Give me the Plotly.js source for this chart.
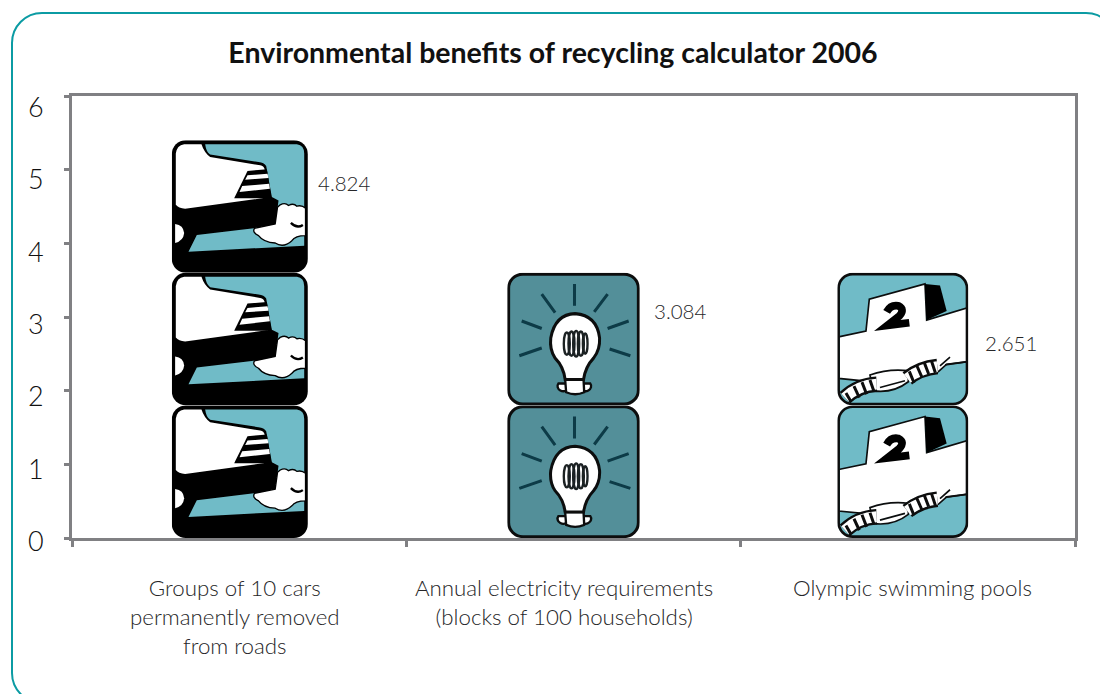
<!DOCTYPE html>
<html><head><meta charset="utf-8">
<script src="https://cdn.plot.ly/plotly-3.0.1.min.js"></script>
<style>
html,body{margin:0;padding:0;background:#fff;width:1100px;height:694px;overflow:hidden}
#frame{position:absolute;left:11px;top:12px;width:1106px;height:692px;border:2px solid #0b9ba3;border-radius:31px;box-sizing:border-box}
#chart{position:absolute;left:0;top:0;width:1100px;height:694px}
</style></head><body>
<div id="frame"></div><div id="chart"></div>
<script>
const categories = ["Groups of 10 cars<br>permanently removed<br>from roads",
  "Annual electricity requirements<br>(blocks of 100 households)",
  "Olympic swimming pools"];
const values = [4.824, 3.084, 2.651];
const valueLabels = ["4.824", "3.084", "2.651"];
const yTicks = [0, 1, 2, 3, 4, 5, 6];
const title = "Environmental benefits of recycling calculator 2006";
const unitsPerIcon = 1.8;

const TEAL = "#70bbc7", BULBBG = "#528f99";
const blur = `<filter id="b" x="-5%" y="-5%" width="110%" height="110%"><feGaussianBlur stdDeviation="1.9"/></filter>`;
const car = `<svg xmlns="http://www.w3.org/2000/svg" viewBox="35 35 408 396" preserveAspectRatio="none"><defs>${blur}</defs><g filter="url(#b)">
<rect x="35" y="35" width="408" height="396" rx="42" fill="#000"/>
<path d="M135,47 L410,47 Q432,50 432,75 L432,350 L85,368 L110,318 L345,290 L355,215 L335,205 L318,112 Q312,102 295,100 L150,78 Q138,70 135,47Z" fill="${TEAL}"/>
<path d="M47,228 L47,75 Q50,50 72,47 L124,47 Q132,72 150,85 L300,110 Q312,112 314,125 L330,205 L75,240 Q55,238 47,228Z" fill="#fff"/>
<path d="M262,127 L320,122 L334,208 L222,208Z" fill="#000"/>
<path d="M262,140 L322,135 L325,148 L255,153Z M246,172 L327,165 L329,180 L238,190Z" fill="#fff"/>
<path d="M360,228 Q375,220 385,230 Q400,222 410,232 Q425,228 436,238 L436,320 Q405,320 395,335 Q370,358 345,342 Q310,340 295,320 Q275,310 283,298 L345,285 L352,235Z" fill="#fff" stroke="#000" stroke-width="4"/>
<path d="M392,282 Q410,300 428,288" fill="none" stroke="#000" stroke-width="7"/>
<path d="M45,285 Q70,288 72,312 Q70,335 45,342Z" fill="#fff"/>
</g></svg>`;
const bulb = `<svg xmlns="http://www.w3.org/2000/svg" viewBox="22 22 396 393" preserveAspectRatio="none"><defs>${blur}</defs><g filter="url(#b)">
<rect x="26" y="26" width="388" height="385" rx="42" fill="${BULBBG}" stroke="#0a0f10" stroke-width="9"/>
<path d="M223,55 L223,120 M125,85 L165,140 M322,85 L282,138 M65,165 L125,187 M385,165 L322,187 M58,268 L125,245 M390,268 L328,248" stroke="#0c3a46" stroke-width="9" fill="none"/>
<path d="M175,350 a13,11 0 1 0 30,16 L240,366 a13,11 0 1 0 30,-16Z" fill="#fff" stroke="#0a0f10" stroke-width="7"/>
<path d="M195,338 L250,338 L252,376 Q225,388 198,376Z" fill="#fff" stroke="#0a0f10" stroke-width="7"/>
<path d="M195,338 Q190,300 165,275 Q148,250 152,215 Q165,145 225,143 Q290,148 298,215 Q300,250 280,275 Q256,300 250,338Z" fill="#fff" stroke="#0a0f10" stroke-width="9"/>
<g fill="none" stroke="#1a2024" stroke-width="7"><ellipse cx="200" cy="232" rx="9" ry="33"/><ellipse cx="214" cy="232" rx="9" ry="36"/><ellipse cx="228" cy="232" rx="9" ry="38"/><ellipse cx="242" cy="232" rx="9" ry="36"/><ellipse cx="255" cy="232" rx="7" ry="30"/></g>
</g></svg>`;
const pool = `<svg xmlns="http://www.w3.org/2000/svg" viewBox="22 22 393 393" preserveAspectRatio="none"><defs>${blur}<clipPath id="c"><rect x="26" y="26" width="385" height="385" rx="42"/></clipPath></defs><g filter="url(#b)">
<rect x="26" y="26" width="385" height="385" rx="42" fill="${TEAL}"/>
<g clip-path="url(#c)">
<path d="M26,212 L108,195 L118,100 L285,55 L290,162 L415,125 L415,285 L350,293 L325,315 L215,325 L130,345 L26,335Z" fill="#fff" stroke="#0a0f10" stroke-width="5"/>
<path d="M285,55 L330,60 L350,135 L290,162Z" fill="#000"/>
<path d="M170,138 Q182,116 205,120 Q226,130 208,150 L172,178 L238,170" fill="none" stroke="#000" stroke-width="23"/>
<path d="M120,325 Q175,305 235,312 L235,345 Q190,380 130,372Z" fill="#fff" stroke="#0a0f10" stroke-width="5"/>
<path d="M150,362 L225,342" stroke="#0a0f10" stroke-width="5"/>
<path d="M45,392 Q85,355 140,352" fill="none" stroke="#0a0f10" stroke-width="46"/>
<path d="M45,392 Q85,355 140,352" fill="none" stroke="#fff" stroke-width="32"/>
<path d="M48,378 L62,402 M72,358 L88,392 M96,346 L110,382 M120,340 L132,374" stroke="#111" stroke-width="9" fill="none"/>
<path d="M232,335 Q270,305 322,300" fill="none" stroke="#0a0f10" stroke-width="46"/>
<path d="M232,335 Q270,305 322,300" fill="none" stroke="#fff" stroke-width="32"/>
<path d="M238,314 L252,348 M260,296 L276,332 M282,286 L296,322 M304,282 L316,318" stroke="#111" stroke-width="9" fill="none"/>
<path d="M330,298 L360,272 M345,295 L415,285" stroke="#0a0f10" stroke-width="5" fill="none"/>
</g>
<rect x="26" y="26" width="385" height="385" rx="42" fill="none" stroke="#0a0f10" stroke-width="8"/>
</g></svg>`;
const iconArt = [car, bulb, pool];
const iconNudge = [0.002, 0, -0.015];
const iconWidths = [0.407, 0.396, 0.392];
const labelNudge = [77, 78, 75];
const categoryNudge = [-4.5, -10, 5];

const toUri = s => "data:image/svg+xml;charset=utf-8," + encodeURIComponent(s);
const images = [];
values.forEach((v, i) => {
  const n = Math.ceil(v / unitsPerIcon);
  for (let k = 0; k < n; k++) images.push({
    source: toUri(iconArt[i]), xref: "x", yref: "y",
    x: i + iconNudge[i], y: k * unitsPerIcon, sizex: iconWidths[i], sizey: unitsPerIcon,
    xanchor: "center", yanchor: "bottom", sizing: "stretch", layer: "above"
  });
});

const F = "Lato, 'Open Sans', sans-serif", INK = "#262628", AXIS = "#808083";
const annotations = [];
values.forEach((v, i) => annotations.push({
  x: i, y: v, xref: "x", yref: "y", text: valueLabels[i], showarrow: false,
  xanchor: "left", xshift: labelNudge[i], font: {family: F, size: 20.5, color: INK, weight: 300}
}));
categories.forEach((c, i) => annotations.push({
  x: i, y: 0, xref: "x", yref: "paper", text: c, showarrow: false,
  xanchor: "center", yanchor: "top", xshift: categoryNudge[i], yshift: -34, align: "center",
  font: {family: F, size: 22.3, color: INK, weight: 300}
}));
yTicks.forEach(t => annotations.push({
  x: 0, y: t, xref: "paper", yref: "y", text: String(t), showarrow: false,
  xanchor: "right", xshift: -26, yshift: -(2.5 + 1.33 * t),
  font: {family: F, size: 27, color: "#111", weight: 300}
}));

Plotly.newPlot("chart", [{
  type: "bar", x: categories, y: values, width: 0.4,
  marker: {color: "rgba(0,0,0,0)"}, hoverinfo: "y"
}], {
  width: 1100, height: 694,
  margin: {l: 72, r: 25, t: 95.5, b: 155.5},
  paper_bgcolor: "rgba(0,0,0,0)", plot_bgcolor: "rgba(0,0,0,0)",
  showlegend: false,
  title: {text: "<b>" + title + "</b>", x: 553 / 1100, xanchor: "center", y: 1 - 53 / 694, yanchor: "middle",
    font: {family: F, size: 28.5, color: "#111"}},
  xaxis: {type: "category", tickson: "boundaries", ticks: "outside", ticklen: 6, tickwidth: 3, tickcolor: AXIS,
    showline: true, mirror: true, linecolor: AXIS, linewidth: 3, showgrid: false,
    showticklabels: false, automargin: false, tickangle: 0},
  yaxis: {range: [0, 6], tickvals: yTicks, ticktext: yTicks.map(() => ""), ticks: "outside", ticklen: 5, tickwidth: 3, tickcolor: AXIS,
    showline: true, mirror: true, linecolor: AXIS, linewidth: 3, showgrid: false, zeroline: false, automargin: false},
  images, annotations
}, {displayModeBar: false, staticPlot: true});
</script>
</body></html>
